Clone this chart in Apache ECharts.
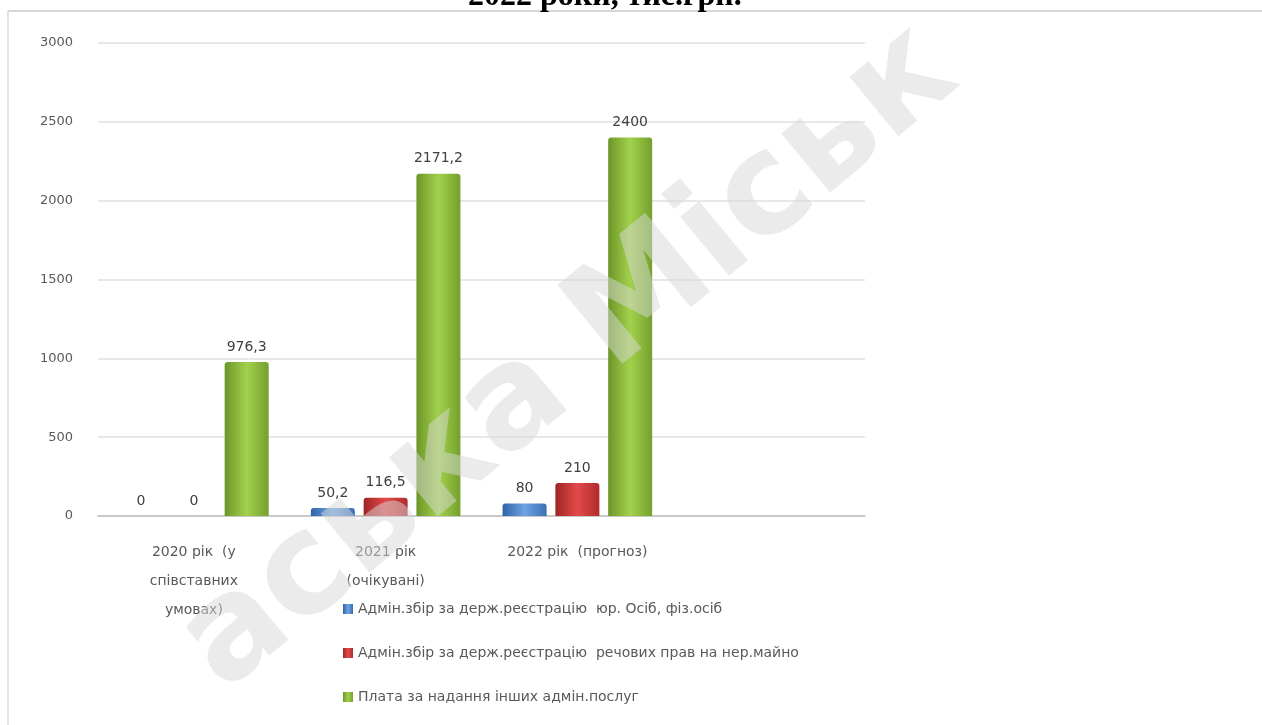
<!DOCTYPE html>
<html lang="uk">
<head>
<meta charset="utf-8">
<title>Адмін. збори, тис.грн.</title>
<script src="https://cdn.jsdelivr.net/npm/echarts@6/dist/echarts.min.js"></script>
<style>
  html, body { margin: 0; padding: 0; background: #fff; }
  #chart { width: 1262px; height: 725px; }
</style>
</head>
<body>
<div id="chart"></div>
<script>
// categories (the 4th one is empty, as in the source chart)
var categories = ['2020 рік  (у\nспівставних\nумовах)', '2021 рік\n(очікувані)', '2022 рік  (прогноз)', ''];
var seriesNames = [
    'Адмін.збір за держ.реєстрацію  юр. Осіб, фіз.осіб',
    'Адмін.збір за держ.реєстрацію  речових прав на нер.майно',
    'Плата за надання інших адмін.послуг'
];
var urFiz = [0, 50.2, 80, null];
var rechPrava = [0, 116.5, 210, null];
var inshi = [976.3, 2171.2, 2400, null];
var yTicks = { min: 0, max: 3000, interval: 500 };

function grad(a, b, c) {
    return new echarts.graphic.LinearGradient(0, 0, 1, 0, [
        { offset: 0, color: a }, { offset: 0.5, color: b }, { offset: 1, color: c }
    ]);
}

var labelOpt = {
    show: true,
    position: 'top',
    distance: 8,
    color: '#404040',
    fontSize: 14,
    fontFamily: 'DejaVu Sans',
    formatter: function (p) { return String(p.value).replace('.', ','); }
};

var myChart = echarts.init(document.getElementById('chart'));
var option = {
    backgroundColor: '#fff',
    animation: false,
    graphic: [
        { type: 'line', shape: { x1: 8, y1: 11, x2: 1262, y2: 11 }, style: { stroke: '#d6d6d6', lineWidth: 2 } },
        { type: 'line', shape: { x1: 8, y1: 11, x2: 8, y2: 725 }, style: { stroke: '#e2e2e2', lineWidth: 2 } },
        { type: 'text', left: 468, top: -19, style: { text: '2022 роки, тис.грн.', font: 'bold 32px "Liberation Serif"', fill: '#000' } },
        // watermark
        {
            type: 'text', x: 570, y: 360, rotation: 0.69, z: 100,
            style: {
                text: 'аська Міськ', font: 'bold 140px "DejaVu Sans"', fill: 'rgba(215,215,215,0.5)',
                align: 'center', verticalAlign: 'middle'
            }
        }
    ],
    color: ['#4f81bd', '#c0504d', '#9bbb59'],
    grid: { left: 98, right: 397, top: 43, bottom: 209 },
    legend: {
        orient: 'vertical',
        left: 338,
        top: 597,
        itemGap: 30,
        itemWidth: 10,
        itemHeight: 10,
        icon: 'rect',
        textStyle: { color: '#595959', fontSize: 14, fontFamily: 'DejaVu Sans' },
        data: seriesNames
    },
    xAxis: {
        type: 'category',
        data: categories,
        axisLine: { lineStyle: { color: '#bfbfbf', width: 1.5 } },
        axisTick: { show: false },
        axisLabel: { color: '#595959', fontSize: 14, fontFamily: 'DejaVu Sans', lineHeight: 29, margin: 22, interval: 0 }
    },
    yAxis: {
        type: 'value',
        min: yTicks.min,
        max: yTicks.max,
        interval: yTicks.interval,
        axisLine: { show: false },
        axisTick: { show: false },
        axisLabel: {
            color: '#595959', fontSize: 13, fontFamily: 'DejaVu Sans', margin: 25,
            formatter: function (v) { return String(v); }
        },
        splitLine: { lineStyle: { color: '#e0e0e0', width: 1.5 } }
    },
    series: [
        {
            name: seriesNames[0], type: 'bar', data: urFiz, barWidth: 44, barGap: '20%',
            itemStyle: { color: grad('#2f63a8', '#6fa3e3', '#3a6fb5'), borderRadius: [3, 3, 0, 0] },
            label: labelOpt
        },
        {
            name: seriesNames[1], type: 'bar', data: rechPrava, barWidth: 44, barGap: '20%',
            itemStyle: { color: grad('#a02424', '#e24a4a', '#b02c2c'), borderRadius: [3, 3, 0, 0] },
            label: labelOpt
        },
        {
            name: seriesNames[2], type: 'bar', data: inshi, barWidth: 44, barGap: '20%',
            itemStyle: { color: grad('#6c9628', '#a2d14c', '#74a02c'), borderRadius: [3, 3, 0, 0] },
            label: labelOpt
        }
    ]
};
myChart.setOption(option);
</script>
</body>
</html>
